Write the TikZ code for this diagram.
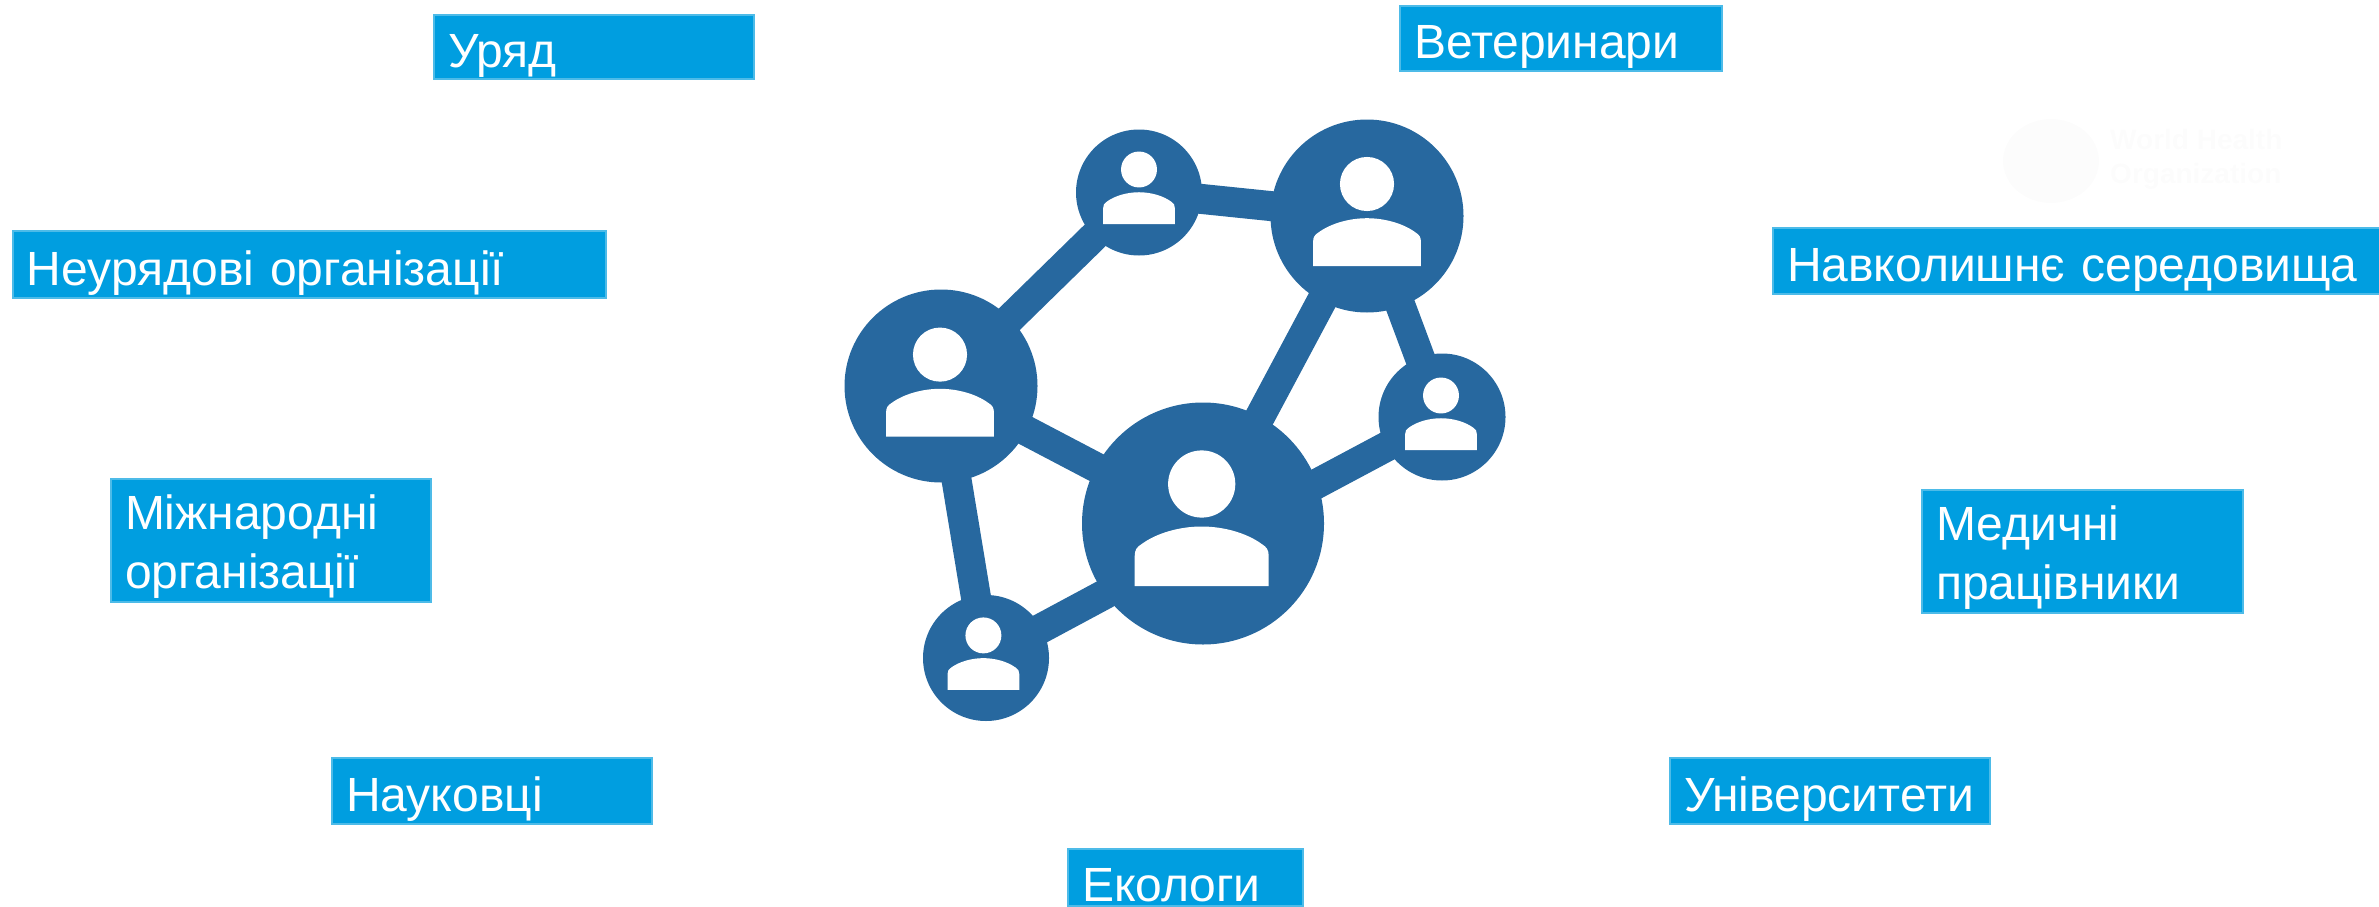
\documentclass[tikz,border=0pt]{standalone}
\usepackage{fontspec}
\setmainfont{Liberation Sans}
\definecolor{boxblue}{HTML}{009EE0}
\definecolor{boxedge}{HTML}{4DBBE8}
\definecolor{netblue}{HTML}{27689F}
\definecolor{faintmark}{HTML}{FCFCFC}
\newcommand{\personicon}[3]{%
  \begin{scope}[shift={(#1,#2)},scale=#3]
    \fill[white] (0,0) circle (33.6);
    \fill[white] (-67,102) -- (-67,72) .. controls (-67,66) and (-65,63) .. (-60,60)
      .. controls (-45,49) and (-22,42.5) .. (0,42.5)
      .. controls (22,42.5) and (45,49) .. (60,60)
      .. controls (65,63) and (67,66) .. (67,72) -- (67,102) -- cycle;
  \end{scope}}
\tikzset{
  bluebox/.style 2 args={rectangle,fill=boxblue,draw=boxedge,line width=2pt,inner ysep=0pt,inner xsep=14pt,
    minimum width=#1 pt,minimum height=#2 pt,text width=#1 pt-28pt,align=left,text=white,
    font=\fontsize{48}{59}\selectfont},
  oneline/.style={text height=47pt,text depth=6pt},
  twoline/.style={text height=46pt},
  hub/.style={circle,fill=netblue,inner sep=0pt,minimum size=#1 pt},
  link/.style={draw=netblue,line width=30pt}
}
\begin{document}
\begin{tikzpicture}[x=1pt,y=-1pt]
\useasboundingbox (0,0) rectangle (2379,907);
% watermark
\fill[faintmark] (2051,161) ellipse (48 and 42);
\node[text=faintmark,font=\fontsize{28}{34}\selectfont\bfseries,anchor=west,align=left,inner sep=0pt] (who) at (2110,159) {World Health\\Organization};
% labels
\node[bluebox={320}{64},oneline] (gov) at (594,47) {Уряд};
\node[bluebox={322}{65},oneline] (vet) at (1561,38.5) {Ветеринари};
\node[bluebox={593}{67},oneline] (ngo) at (309.5,264.5) {Неурядові організації};
\node[bluebox={620}{66},oneline] (env) at (2083,261) {Навколишнє середовища};
\node[bluebox={320}{123},twoline] (intl) at (271,540.5) {Міжнародні\\організації};
\node[bluebox={321}{123},twoline] (med) at (2082.5,551.5) {Медичні\\працівники};
\node[bluebox={320}{66},oneline] (sci) at (492,791) {Науковці};
\node[bluebox={320}{66},oneline] (uni) at (1830,791) {Університети};
\node[bluebox={235}{57},text height=49pt,text depth=1pt] (eco) at (1185.5,877.5) {Екологи};
% network
\node[hub=193] (A) at (941,386) {};
\node[hub=126] (B) at (1139,192.5) {};
\node[hub=193] (C) at (1367,216) {};
\node[hub=127] (D) at (1442,417) {};
\node[hub=242] (E) at (1203,523.5) {};
\node[hub=126] (F) at (986,658) {};
\draw[link] (A.center) -- (B.center);
\draw[link] (B.center) -- (C.center);
\draw[link] (C.center) -- (D.center);
\draw[link] (C.center) -- (E.center);
\draw[link] (A.center) -- (E.center);
\draw[link] (A.center) -- (F.center);
\draw[link] ([yshift=-21pt]E.center) -- (D.center);
\draw[link] ([yshift=-18pt]E.center) -- (F.center);
\personicon{1201.7}{484}{1}
\personicon{940}{354.6}{0.805}
\personicon{1367}{184}{0.805}
\personicon{1139}{169.5}{0.535}
\personicon{1441}{395.5}{0.535}
\personicon{983.4}{635.4}{0.535}
\end{tikzpicture}
\end{document}
